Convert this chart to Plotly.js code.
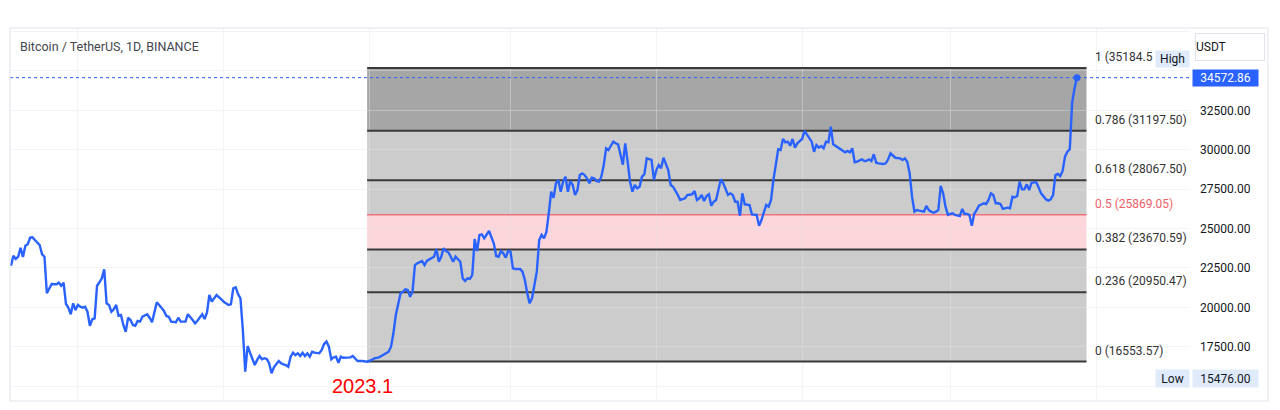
<!DOCTYPE html>
<html><head><meta charset="utf-8">
<script src="https://cdn.plot.ly/plotly-3.0.1.min.js"></script>
<style>html,body{margin:0;padding:0;background:#fff}#chart{width:1280px;height:410px}</style>
</head><body><div id="chart"></div>
<script>
// Days since 2022-08-04 (daily BTC/USDT closes)
const days = [0,1,2,3,4,5,6,7,8,9,10,12,13,14,15,16,17,19,20,21,22,23,24,25,26,27,28,29,30,31,32,33,34,35,36,37,38,39,40,41,42,43,44,45,46,47,48,49,50,51,52,53,54,55,56,57,58,59,60,61,62,64,65,66,67,69,70,71,73,74,76,77,78,80,81,82,83,84,86,87,88,89,91,92,93,94,95,96,97,98,99,100,101,102,103,104,105,106,107,108,109,110,112,113,114,115,116,117,118,119,120,121,122,123,124,125,126,127,129,130,131,132,133,134,135,136,137,138,139,141,142,143,144,145,147,149,151,152,154,155,157,158,159,160,161,163,164,165,166,167,168,169,170,171,172,173,174,175,177,178,179,180,181,182,183,184,185,186,188,189,190,191,192,193,194,195,196,197,198,200,201,202,203,204,205,206,207,208,209,210,211,213,214,215,216,217,218,220,221,222,223,224,225,226,227,228,229,230,231,232,233,234,235,236,237,238,239,240,241,242,243,244,245,246,247,248,249,250,251,252,253,254,256,257,258,259,260,261,262,263,264,265,266,267,268,269,270,271,272,273,275,276,277,279,280,282,283,285,286,287,288,289,290,291,292,293,294,295,296,297,298,299,300,301,302,303,304,305,306,307,308,309,310,311,312,313,314,315,316,317,318,319,320,321,322,323,324,325,326,327,328,329,330,331,332,334,335,336,337,338,339,340,341,342,343,344,345,346,347,348,349,350,351,352,353,354,356,357,358,359,360,361,362,363,365,366,367,368,369,370,372,373,374,375,376,377,378,379,380,382,383,384,385,386,387,388,389,390,391,392,393,394,395,396,397,398,399,400,401,402,403,404,405,407,408,409,410,411,412,413,414,415,417,418,419,420,421,422,423,424,425,426,427,428,429,430,431,433,434,435,436,437,438,439,440,441,442,443,444,445,446];
const closes = [22640,23270,23070,23210,23780,23190,23910,24000,24420,24440,24270,23950,23360,23210,20890,21200,21480,21460,21560,21370,21560,20210,19980,19560,20250,19830,20150,20040,19980,20040,19720,18830,19240,19300,21370,21590,21840,22410,20250,20150,19720,19870,20150,19470,19510,18880,18450,19340,19190,18880,18830,19130,19090,19410,19480,19560,19340,19050,19680,20320,20150,19770,19450,19400,19090,19050,19340,19090,19090,19560,19190,18985,19150,19560,19260,19680,20780,20360,20780,20610,20510,20355,20150,20190,21205,21270,20840,20570,18560,15910,17545,17120,16770,16340,16660,16910,16700,16770,16720,16450,15810,16190,16590,16450,16380,16340,16230,16865,17120,16970,17080,16910,17120,16910,17080,16865,17180,17120,17080,17290,17670,17820,17500,16700,16825,16865,16485,16865,16800,16800,16825,16910,16765,16590,16590,16550,16660,16765,16825,16910,17080,17180,17500,18350,19510,20890,20990,21140,21100,20670,20990,22680,22790,22855,22940,22680,22940,23040,23210,23700,22895,23210,23740,23570,23490,23210,22890,23210,22890,21840,21670,21840,21800,22050,24335,23570,24590,24630,24380,24840,24420,24060,23255,23210,23570,23425,23150,23570,23530,22475,22430,22430,22260,21730,20890,20250,20570,22260,24270,24590,24380,24760,25965,27335,26955,27870,28080,27335,27970,28290,27335,28010,27760,27130,27440,28395,28500,28395,28185,27870,28225,28185,28010,27970,28290,29030,30090,29980,30250,30510,30406,30340,29050,30406,29240,27970,27335,27760,27550,27650,28290,28440,29450,29390,29350,28080,28710,29030,28820,29490,28710,27760,27650,27125,26810,26915,27125,27170,27380,26810,26915,27125,26745,27060,27170,26450,26700,26810,27440,28120,27870,27550,27125,27230,27125,26700,26700,25810,27230,26535,26490,26490,25900,25900,25860,25180,25540,26030,26490,26385,26810,28080,29030,30025,29980,30680,30470,30510,30250,30680,30130,30406,30550,30680,31190,30680,30510,29870,30300,30130,30235,30090,30510,30470,31460,30340,30235,30150,30025,29920,29835,29920,29835,30090,29200,29240,29390,29280,29300,29390,29280,29710,29175,29135,29090,29135,29390,29770,29620,29490,29450,29350,29450,29240,28500,27020,26070,26170,26130,26070,26430,26170,26070,26000,26070,26170,27700,27230,26385,25860,25920,25965,25860,25810,25790,26240,25920,25920,25860,25180,25920,26170,26450,26600,26555,26810,27230,27125,26600,26600,26555,26240,26320,26280,27020,26980,27060,27970,27485,27485,27800,27440,27905,27930,27930,27590,27230,26850,26765,26850,27125,28390,28460,28330,28650,29560,29870,30025,33000,33900,34572.86];

const monthStartDays = [28, 89, 150, 209, 270, 331, 393, 454];
const fibRatios = [0, 0.236, 0.382, 0.5, 0.618, 0.786, 1];
const fibPrices = [16553.57, 20950.47, 23670.59, 25869.05, 28067.50, 31197.50, 35184.50];
const fibBandColors = ['#cccccc', '#cccccc', '#fcd6da', '#cccccc', '#cccccc', '#a6a6a6'];
const fibStartDay = 149;
const fibEndDay = 450;
const priceTicks = [15000, 17500, 20000, 22500, 25000, 27500, 30000, 32500, 35000, 37500];
const hiddenPriceTicks = [15000, 35000, 37500];
const lowPrice = 15476.00;
const titleText = 'Bitcoin / TetherUS, 1D, BINANCE';
const currencyText = 'USDT';
const markLabel = '2023.1';
const markDay = 147;
const markPrice = 15030;

const FONT = 'Roboto, "Liberation Sans", Arial, sans-serif';
const lastDay = days[days.length - 1];
const lastPrice = closes[closes.length - 1];
const GRID = 'rgba(225,228,236,0.42)';

const shapes = [];
for (let i = 0; i < fibPrices.length - 1; i++) {
  shapes.push({type:'rect', xref:'x', yref:'y', x0:fibStartDay, x1:fibEndDay,
    y0:fibPrices[i], y1:fibPrices[i+1], fillcolor:fibBandColors[i], line:{width:0}, layer:'below'});
}
fibRatios.forEach((r, i) => {
  const isMid = r === 0.5;
  shapes.push({type:'line', xref:'x', yref:'y', x0:fibStartDay, x1:fibEndDay,
    y0:fibPrices[i], y1:fibPrices[i], layer:'between',
    line:{color: isMid ? '#f0727c' : '#3a3a3a', width: isMid ? 1.5 : 2}});
});
shapes.push({type:'line', xref:'paper', yref:'y', x0:0, x1:1, y0:lastPrice, y1:lastPrice,
  line:{color:'#2962ff', width:1, dash:'dot'}, layer:'above'});
shapes.push({type:'rect', xref:'paper', yref:'paper', x0:0, x1:1.0661, y0:0, y1:1,
  line:{color:'#e0e3eb', width:1}, fillcolor:'rgba(0,0,0,0)', layer:'above'});

const annotations = [];
annotations.push({xref:'paper', yref:'paper', x:0, xshift:8, y:1, yshift:-9, xanchor:'left', yanchor:'top',
  text:titleText, showarrow:false, font:{family:FONT, size:12.5, color:'#43464f'}});
fibRatios.forEach((r, i) => {
  const isMid = r === 0.5;
  const isTop = r === 1;
  // the top label is cut by the "High" tag in the reference
  const label = isTop ? (r + ' (' + fibPrices[i].toFixed(1)) : (r + ' (' + fibPrices[i].toFixed(2) + ')');
  annotations.push({xref:'x', yref:'y', x:fibEndDay, xshift:6, y:fibPrices[i], yshift:2,
    xanchor:'left', yanchor:'bottom', showarrow:false, text: label,
    font:{family:FONT, size:12, color: isMid ? '#f0606b' : '#333333'}});
});
annotations.push({xref:'paper', yref:'y', x:1, y:fibPrices[fibPrices.length-1], xanchor:'right', yanchor:'bottom',
  text:'High', showarrow:false, width:33, height:16, borderpad:0, bgcolor:'#dfeafb',
  font:{family:FONT, size:12, color:'#131722'}});
annotations.push({xref:'paper', yref:'y', x:1, y:lowPrice, xanchor:'right', yanchor:'middle',
  text:'Low', showarrow:false, width:33, height:17, borderpad:0, bgcolor:'#dfeafb',
  font:{family:FONT, size:12, color:'#131722'}});
annotations.push({xref:'paper', yref:'y', x:1, xshift:2, y:lowPrice, xanchor:'left', yanchor:'middle',
  text:lowPrice.toFixed(2), showarrow:false, width:65, height:17, borderpad:0, bgcolor:'#dfeafb',
  font:{family:FONT, size:12, color:'#131722'}});
annotations.push({xref:'paper', yref:'y', x:1, xshift:2, y:lastPrice, xanchor:'left', yanchor:'middle',
  text:lastPrice.toFixed(2), showarrow:false, width:65, height:16, borderpad:0, bgcolor:'#2962ff',
  font:{family:FONT, size:12, color:'#ffffff'}});
annotations.push({xref:'paper', yref:'paper', x:1, xshift:5, y:1, yshift:-5, xanchor:'left', yanchor:'top',
  text:currencyText, showarrow:false, width:68, height:26, borderpad:0, align:'left',
  bordercolor:'#e0e3eb', borderwidth:1, bgcolor:'#ffffff',
  font:{family:FONT, size:12, color:'#131722'}});
annotations.push({xref:'x', yref:'y', x:markDay, y:markPrice, xanchor:'center', yanchor:'middle',
  text:markLabel, showarrow:false, font:{family:'"Liberation Sans", Arial, sans-serif', size:20, color:'#ff0000'}});

const traces = [
  {x:days, y:closes, type:'scatter', mode:'lines', line:{color:'#2962ff', width:2.4}, hoverinfo:'skip'},
  {x:[lastDay], y:[lastPrice], type:'scatter', mode:'markers', marker:{color:'#2962ff', size:7}, hoverinfo:'skip'}
];

const layout = {
  width:1280, height:410,
  margin:{l:10, r:90, t:28, b:9},
  paper_bgcolor:'#ffffff', plot_bgcolor:'#ffffff',
  showlegend:false,
  font:{family:FONT},
  xaxis:{range:[-0.42, 493.3], tickvals:monthStartDays, showticklabels:false, ticks:'',
    showgrid:true, gridcolor:GRID, gridwidth:1, zeroline:false, showline:false, fixedrange:true},
  yaxis:{range:[14055, 37722], side:'right', tickvals:priceTicks,
    ticktext:priceTicks.map(v => hiddenPriceTicks.includes(v) ? '' : v.toFixed(2)),
    ticks:'', ticklabelstandoff:9, tickfont:{family:FONT, size:12, color:'#131722'},
    showgrid:true, gridcolor:GRID, gridwidth:1, zeroline:false, showline:false, fixedrange:true},
  shapes:shapes,
  annotations:annotations
};

Plotly.newPlot('chart', traces, layout, {displayModeBar:false, staticPlot:true});
</script></body></html>
